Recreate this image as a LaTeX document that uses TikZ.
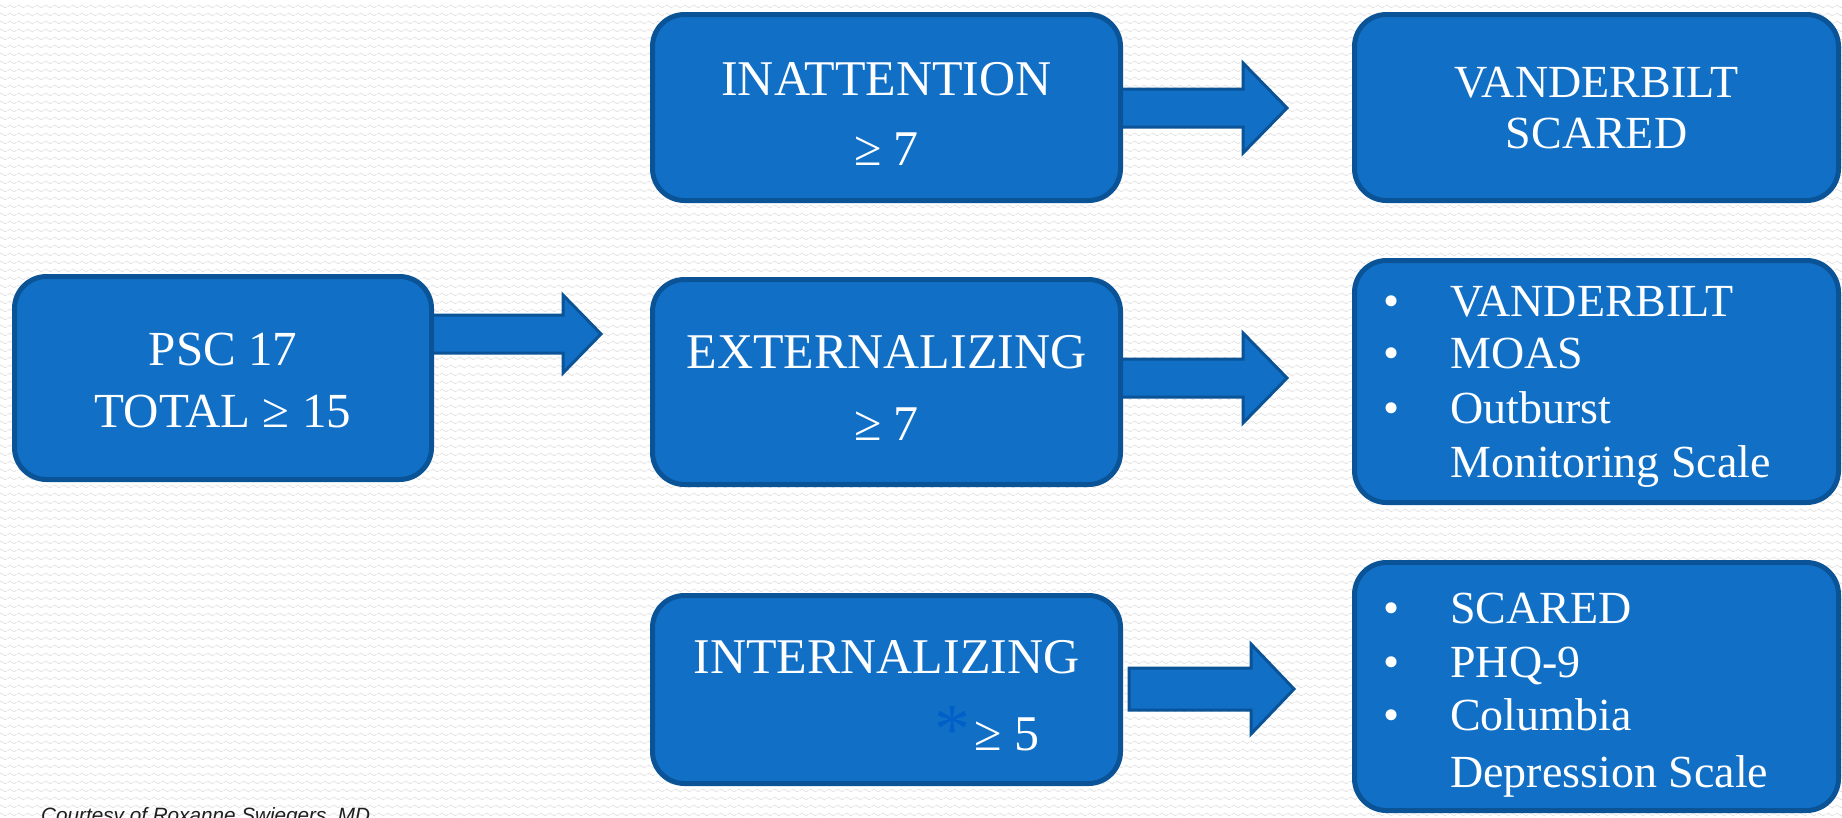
\documentclass[tikz,border=0pt]{standalone}
\usepackage{fontspec}
\setmainfont{Liberation Serif}
\newfontfamily\courtfont{Liberation Sans}
\usetikzlibrary{patterns}
\definecolor{boxfill}{RGB}{17,112,198}
\definecolor{boxedge}{RGB}{10,83,150}
\definecolor{astblue}{RGB}{0,96,200}
\definecolor{bgwave}{RGB}{226,226,226}
\pgfdeclarepatternformonly{waves}{\pgfqpoint{0pt}{0pt}}{\pgfqpoint{9pt}{8pt}}{\pgfqpoint{9pt}{8pt}}{%
  \pgfsetlinewidth{0.8pt}%
  \pgfpathmoveto{\pgfqpoint{0pt}{4pt}}%
  \pgfpathcurveto{\pgfqpoint{1.2pt}{6pt}}{\pgfqpoint{3.3pt}{6pt}}{\pgfqpoint{4.5pt}{4pt}}%
  \pgfpathcurveto{\pgfqpoint{5.7pt}{2pt}}{\pgfqpoint{7.8pt}{2pt}}{\pgfqpoint{9pt}{4pt}}%
  \pgfusepath{stroke}}
\newcommand\blockarrow[6]{%
  \draw[barrow] (#1,#4-#5) -- (#2,#4-#5) -- (#2,#4-#6) -- (#3,#4) -- (#2,#4+#6) -- (#2,#4+#5) -- (#1,#4+#5) -- cycle;}
\begin{document}
\begin{tikzpicture}[x=1pt,y=-1pt,
  box/.style={draw=boxedge, fill=boxfill, line width=5pt, rounded corners=32pt, inner sep=0pt},
  barrow/.style={draw=boxedge, fill=boxfill, line width=3pt, line join=miter},
  midtxt/.style={text=white, inner sep=0pt, anchor=base, font=\fontsize{50pt}{60pt}\selectfont},
  psctxt/.style={text=white, inner sep=0pt, anchor=base, font=\fontsize{49pt}{59pt}\selectfont},
  rtxt/.style={text=white, inner sep=0pt, anchor=base, font=\fontsize{46pt}{55pt}\selectfont},
  ltxt/.style={text=white, inner sep=0pt, anchor=base west, font=\fontsize{46pt}{55pt}\selectfont},
  bul/.style={text=white, inner sep=0pt, anchor=base, font=\fontsize{46pt}{55pt}\selectfont}]
\useasboundingbox (0,0) rectangle (1842,817);
\fill[white] (0,0) rectangle (1842,817);
\fill[pattern=waves, pattern color=bgwave] (0,0) rectangle (1842,817);

% block arrows
\blockarrow{425}{563}{601}{334}{19}{39}
\blockarrow{1115}{1243}{1287}{108}{19}{45}
\blockarrow{1115}{1243}{1287}{378}{19}{45}
\blockarrow{1129}{1251}{1294}{689}{21}{45}

% boxes
\node[box, minimum width=417pt, minimum height=203pt] (psc) at (223,378) {};
\node[box, minimum width=468pt, minimum height=186pt] (inat) at (886.5,107.5) {};
\node[box, minimum width=468pt, minimum height=205pt] (ext) at (886.5,382) {};
\node[box, minimum width=468pt, minimum height=188pt] (int) at (886.5,689.5) {};
\node[box, minimum width=484pt, minimum height=186pt] (vs) at (1596.5,107.5) {};
\node[box, minimum width=484pt, minimum height=242pt] (extl) at (1596.5,381.5) {};
\node[box, minimum width=484pt, minimum height=248pt] (intl) at (1596.5,686.5) {};

% PSC text
\node[psctxt] (psc1) at (223,365) {PSC 17};
\node[psctxt] (psc2) at (223,427) {TOTAL ≥ 15};

% middle texts
\node[midtxt] (inat1) at (886.5,95) {INATTENTION};
\node[midtxt] (inat2) at (886.5,165) {≥ 7};
\node[midtxt] (ext1) at (886.5,368) {EXTERNALIZING};
\node[midtxt] (ext2) at (886.5,440) {≥ 7};
\node[midtxt] (int1) at (886.5,673) {INTERNALIZING};
\node[midtxt] (int2) at (1007,750) {≥ 5};
\node[text=astblue, inner sep=0pt, font=\fontsize{72pt}{80pt}\selectfont] (ast) at (952,730) {*};

% top-right text
\node[rtxt] (vs1) at (1596.5,97) {VANDERBILT};
\node[rtxt] (vs2) at (1596.5,148) {SCARED};

% externalizing list
\node[bul] (eb1) at (1392,316) {•};
\node[bul] (eb2) at (1392,368) {•};
\node[bul] (eb3) at (1392,423) {•};
\node[ltxt] (el1) at (1450,316) {VANDERBILT};
\node[ltxt] (el2) at (1450,368) {MOAS};
\node[ltxt] (el3) at (1450,423) {Outburst};
\node[ltxt] (el4) at (1450,477) {Monitoring Scale};

% internalizing list
\node[bul] (ib1) at (1392,623) {•};
\node[bul] (ib2) at (1392,677) {•};
\node[bul] (ib3) at (1392,730) {•};
\node[ltxt] (il1) at (1450,623) {SCARED};
\node[ltxt] (il2) at (1450,677) {PHQ-9};
\node[ltxt] (il3) at (1450,730) {Columbia};
\node[ltxt] (il4) at (1450,787) {Depression Scale};

% credit
\node[anchor=base west, inner sep=0pt, text=black!88, font=\courtfont\itshape\fontsize{20.7pt}{25pt}\selectfont] (court) at (41,822) {Courtesy of Roxanne Swiegers, MD};
\end{tikzpicture}
\end{document}
